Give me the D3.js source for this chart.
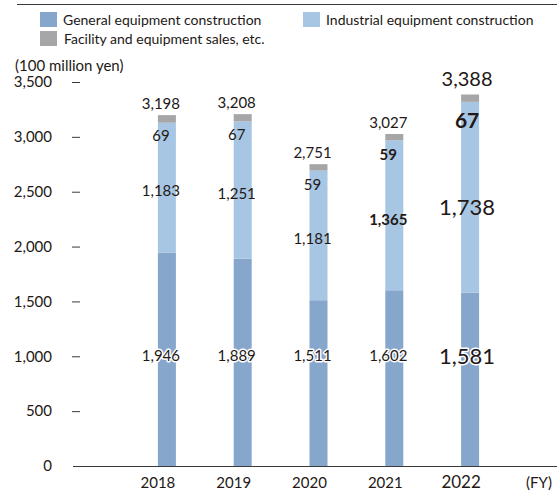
<!DOCTYPE html>
<html>
<head>
<meta charset="utf-8">
<script src="https://cdn.jsdelivr.net/npm/d3@7"></script>
<style>
  body { margin: 0; background: #fff; }
  svg text { font-family: Lato, "Noto Sans", sans-serif; fill: #231815; }
</style>
</head>
<body>
<svg class="sales" width="557" height="492"></svg>
<script>
const years = ['2018', '2019', '2020', '2021', '2022'];
const general = [1946, 1889, 1511, 1602, 1581];
const industrial = [1183, 1251, 1181, 1365, 1738];
const facility = [69, 67, 59, 59, 67];
const totals = [3198, 3208, 2751, 3027, 3388];
const yTicks = [0, 500, 1000, 1500, 2000, 2500, 3000, 3500];

const seriesNames = ['General equipment construction', 'Industrial equipment construction', 'Facility and equipment sales, etc.'];
const colors = ['#87a6cc', '#a7c6e3', '#a6a6a8'];

const svg = d3.select('svg.sales');

const rows = years.map((y, i) => ({ year: y, general: general[i], industrial: industrial[i], facility: facility[i], total: totals[i] }));

const xScale = d3.scaleBand()
    .domain(years)
    .range([129, 508]);

const yScale = d3.scaleLinear()
    .domain([0, 3500])
    .range([466, 82]);

const fmt = d3.format(',');
const barW = 18;
const cx = d => xScale(d) + xScale.bandwidth() / 2;

// top rule
svg.append('line')
    .attr('x1', 17).attr('x2', 557)
    .attr('y1', 4.5).attr('y2', 4.5)
    .attr('stroke', '#3a3a3a').attr('stroke-width', 1);

// legend
const legendPos = [[40, 12], [303, 12], [40, 31]];
const legend = svg.append('g').selectAll('g').data(seriesNames)
    .enter().append('g')
    .attr('transform', (d, i) => `translate(${legendPos[i][0]}, ${legendPos[i][1]})`);
legend.append('rect').attr('width', 17).attr('height', 15).attr('fill', (d, i) => colors[i]);
legend.append('text').attr('x', (d, i) => i === 2 ? 24 : 23).attr('y', 12.5)
    .style('font-size', '14px').text(d => d);

svg.append('text').attr('x', 15).attr('y', 71)
    .style('font-size', '15px').text('(100 million yen)');

// y axis
const yAxis = svg.append('g')
    .attr('transform', 'translate(80, 0)')
    .call(d3.axisLeft(yScale).tickValues(yTicks).tickFormat(fmt).tickSize(8).tickPadding(20));
yAxis.select('.domain').remove();
yAxis.selectAll('.tick line').attr('stroke', '#3a3a3a').filter(d => d === 0).remove();
yAxis.selectAll('.tick text').style('font-size', '15px').style('font-family', 'Lato, "Noto Sans", sans-serif').attr('fill', '#231815');

// bars
const stack = d3.stack().keys(['general', 'industrial', 'facility'])(rows);
svg.append('g').selectAll('g').data(stack)
    .enter().append('g')
    .attr('fill', (d, i) => colors[i])
    .selectAll('rect').data(d => d)
    .enter().append('rect')
    .attr('x', d => cx(d.data.year) - barW / 2)
    .attr('y', d => yScale(d[1]))
    .attr('width', barW)
    .attr('height', d => yScale(d[0]) - yScale(d[1]));

// baseline
svg.append('line')
    .attr('x1', 73).attr('x2', 557)
    .attr('y1', 466.5).attr('y2', 466.5)
    .attr('stroke', '#3a3a3a').attr('stroke-width', 1.2);

// x labels
const xAxis = svg.append('g')
    .attr('transform', 'translate(-9, 466)')
    .call(d3.axisBottom(xScale).tickSize(0));
xAxis.select('.domain').remove();
xAxis.selectAll('.tick text')
    .style('font-family', 'Lato, "Noto Sans", sans-serif').attr('fill', '#231815')
    .style('font-size', d => d === '2022' ? '17px' : '15px')
    .attr('dy', 0)
    .attr('y', 22);
svg.append('text').attr('x', 539).attr('y', 488).attr('text-anchor', 'middle')
    .style('font-size', '15px').text('(FY)');

// value labels
const isBig = d => d.year === '2022';
const isBold = d => d.year === '2021' || d.year === '2022';
const labels = svg.append('g').attr('text-anchor', 'middle');
const lx = d => cx(d.year) - (isBig(d) ? 3 : 6);

labels.selectAll('.total').data(rows).enter().append('text')
    .attr('x', lx)
    .attr('y', d => yScale(d.total) - (isBig(d) ? 8 : 6))
    .style('font-size', d => isBig(d) ? '20px' : '15px')
    .text(d => fmt(d.total));

labels.selectAll('.fac').data(rows).enter().append('text')
    .attr('x', lx)
    .attr('y', d => yScale(d.total) + (isBig(d) ? 34 : 26))
    .style('font-size', d => isBig(d) ? '21px' : '15px')
    .style('font-weight', d => isBold(d) ? 'bold' : 'normal')
    .text(d => fmt(d.facility));

labels.selectAll('.ind').data(rows).enter().append('text')
    .attr('x', lx)
    .attr('y', d => yScale(d.general + d.industrial * (isBig(d) ? 0.45 : 0.47)) + (isBig(d) ? 8 : 5))
    .style('font-size', d => isBig(d) ? '22px' : '15px')
    .style('font-weight', d => d.year === '2021' ? 'bold' : 'normal')
    .text(d => fmt(d.industrial));

labels.selectAll('.gen').data(rows).enter().append('text')
    .attr('x', lx)
    .attr('y', d => yScale(1000) + (isBig(d) ? 8 : 5))
    .style('font-size', d => isBig(d) ? '22px' : '15px')
    .attr('stroke', '#fff').attr('stroke-width', 3).attr('paint-order', 'stroke')
    .attr('stroke-linejoin', 'round')
    .text(d => fmt(d.general));
</script>
</body>
</html>
